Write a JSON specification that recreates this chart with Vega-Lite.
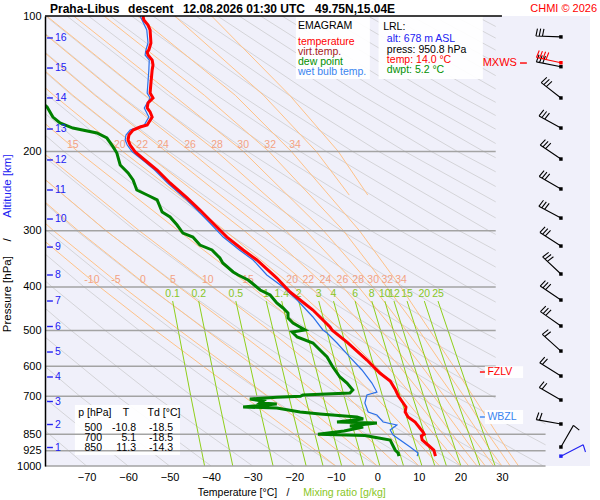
{
  "$schema": "https://vega.github.io/schema/vega-lite/v6.json",
  "description": "Emagram, Praha-Libus descent 12.08.2026 01:30 UTC",
  "width": 545,
  "height": 450,
  "autosize": {"type": "none"},
  "padding": {"left": 45, "top": 16, "right": 10, "bottom": 34},
  "background": "#ffffff",
  "config": {
    "font": "Liberation Sans",
    "view": {"fill": "#f0f0fa", "stroke": null}
  },
  "datasets": {
    "dry": [
      {"g": -70, "p": 1000, "t": -70}, {"g": -70, "p": 700, "t": -89.7},
      {"g": -60, "p": 1000, "t": -60}, {"g": -60, "p": 700, "t": -80.65}, {"g": -60, "p": 500, "t": -98.3},
      {"g": -50, "p": 1000, "t": -50}, {"g": -50, "p": 700, "t": -71.6}, {"g": -50, "p": 500, "t": -90.1},
      {"g": -40, "p": 1000, "t": -40}, {"g": -40, "p": 700, "t": -62.6}, {"g": -40, "p": 500, "t": -81.9}, {"g": -40, "p": 400, "t": -93.7},
      {"g": -30, "p": 1000, "t": -30}, {"g": -30, "p": 700, "t": -53.56}, {"g": -30, "p": 500, "t": -73.69}, {"g": -30, "p": 400, "t": -86.0},
      {"g": -20, "p": 1000, "t": -20}, {"g": -20, "p": 700, "t": -44.53}, {"g": -20, "p": 500, "t": -65.49}, {"g": -20, "p": 400, "t": -78.3}, {"g": -20, "p": 300, "t": -93.7},
      {"g": -10, "p": 1000, "t": -10}, {"g": -10, "p": 700, "t": -35.5}, {"g": -10, "p": 500, "t": -57.29}, {"g": -10, "p": 400, "t": -70.6}, {"g": -10, "p": 300, "t": -86.6},
      {"g": 0, "p": 1000, "t": 0}, {"g": 0, "p": 700, "t": -26.47}, {"g": 0, "p": 500, "t": -49.09}, {"g": 0, "p": 400, "t": -62.91}, {"g": 0, "p": 300, "t": -79.51}, {"g": 0, "p": 200, "t": -100.7},
      {"g": 10, "p": 1000, "t": 10}, {"g": 10, "p": 700, "t": -17.44}, {"g": 10, "p": 500, "t": -40.88}, {"g": 10, "p": 400, "t": -55.21}, {"g": 10, "p": 300, "t": -72.42}, {"g": 10, "p": 200, "t": -94.37},
      {"g": 20, "p": 1000, "t": 20}, {"g": 20, "p": 700, "t": -8.41}, {"g": 20, "p": 500, "t": -32.68}, {"g": 20, "p": 400, "t": -47.51}, {"g": 20, "p": 300, "t": -65.34}, {"g": 20, "p": 200, "t": -88.06},
      {"g": 30, "p": 1000, "t": 30}, {"g": 30, "p": 700, "t": 0.63}, {"g": 30, "p": 500, "t": -24.48}, {"g": 30, "p": 400, "t": -39.82}, {"g": 30, "p": 300, "t": -58.25}, {"g": 30, "p": 200, "t": -81.74}, {"g": 30, "p": 150, "t": -96.84},
      {"g": 40, "p": 1000, "t": 40}, {"g": 40, "p": 700, "t": 9.66}, {"g": 40, "p": 500, "t": -16.27}, {"g": 40, "p": 400, "t": -32.12}, {"g": 40, "p": 300, "t": -51.16}, {"g": 40, "p": 200, "t": -75.43}, {"g": 40, "p": 150, "t": -91.02},
      {"g": 50, "p": 1000, "t": 50}, {"g": 50, "p": 700, "t": 18.69}, {"g": 50, "p": 500, "t": -8.07}, {"g": 50, "p": 400, "t": -24.42}, {"g": 50, "p": 300, "t": -44.07}, {"g": 50, "p": 200, "t": -69.11}, {"g": 50, "p": 150, "t": -85.21},
      {"g": 60, "p": 1000, "t": 60}, {"g": 60, "p": 700, "t": 27.72}, {"g": 60, "p": 500, "t": 0.13}, {"g": 60, "p": 400, "t": -16.72}, {"g": 60, "p": 300, "t": -36.98}, {"g": 60, "p": 200, "t": -62.8}, {"g": 60, "p": 150, "t": -79.39}, {"g": 60, "p": 100, "t": -100.6},
      {"g": 70, "p": 1000, "t": 70}, {"g": 70, "p": 700, "t": 36.75}, {"g": 70, "p": 500, "t": 8.34}, {"g": 70, "p": 400, "t": -9.03}, {"g": 70, "p": 300, "t": -29.89}, {"g": 70, "p": 200, "t": -56.48}, {"g": 70, "p": 150, "t": -73.57}, {"g": 70, "p": 100, "t": -95.43},
      {"g": 80, "p": 700, "t": 45.78}, {"g": 80, "p": 500, "t": 16.54}, {"g": 80, "p": 400, "t": -1.33}, {"g": 80, "p": 300, "t": -22.8}, {"g": 80, "p": 200, "t": -50.17}, {"g": 80, "p": 150, "t": -67.76}, {"g": 80, "p": 100, "t": -90.25},
      {"g": 90, "p": 700, "t": 54.8}, {"g": 90, "p": 500, "t": 24.74}, {"g": 90, "p": 400, "t": 6.37}, {"g": 90, "p": 300, "t": -15.71}, {"g": 90, "p": 200, "t": -43.86}, {"g": 90, "p": 150, "t": -61.94}, {"g": 90, "p": 100, "t": -85.08},
      {"g": 100, "p": 500, "t": 32.94}, {"g": 100, "p": 400, "t": 14.06}, {"g": 100, "p": 300, "t": -8.62}, {"g": 100, "p": 200, "t": -37.54}, {"g": 100, "p": 150, "t": -56.13}, {"g": 100, "p": 100, "t": -79.9},
      {"g": 110, "p": 500, "t": 41.15}, {"g": 110, "p": 400, "t": 21.76}, {"g": 110, "p": 300, "t": -1.53}, {"g": 110, "p": 200, "t": -31.23}, {"g": 110, "p": 150, "t": -50.31}, {"g": 110, "p": 100, "t": -74.72},
      {"g": 120, "p": 500, "t": 49.3}, {"g": 120, "p": 400, "t": 29.46}, {"g": 120, "p": 300, "t": 5.55}, {"g": 120, "p": 200, "t": -24.91}, {"g": 120, "p": 150, "t": -44.49}, {"g": 120, "p": 100, "t": -69.54},
      {"g": 130, "p": 400, "t": 37.15}, {"g": 130, "p": 300, "t": 12.64}, {"g": 130, "p": 200, "t": -18.6}, {"g": 130, "p": 150, "t": -38.68}, {"g": 130, "p": 100, "t": -64.36},
      {"g": 140, "p": 400, "t": 44.8}, {"g": 140, "p": 300, "t": 19.73}, {"g": 140, "p": 200, "t": -12.29}, {"g": 140, "p": 150, "t": -32.86}, {"g": 140, "p": 100, "t": -59.18},
      {"g": 150, "p": 400, "t": 52.5}, {"g": 150, "p": 300, "t": 26.82}, {"g": 150, "p": 200, "t": -5.97}, {"g": 150, "p": 150, "t": -27.05}, {"g": 150, "p": 100, "t": -54.0},
      {"g": 160, "p": 300, "t": 33.91}, {"g": 160, "p": 200, "t": 0.34}, {"g": 160, "p": 150, "t": -21.23}, {"g": 160, "p": 100, "t": -48.82},
      {"g": 170, "p": 300, "t": 41.0}, {"g": 170, "p": 200, "t": 6.65}, {"g": 170, "p": 150, "t": -15.41}, {"g": 170, "p": 100, "t": -43.64},
      {"g": 180, "p": 300, "t": 48.1}, {"g": 180, "p": 200, "t": 12.97}, {"g": 180, "p": 150, "t": -9.6}, {"g": 180, "p": 100, "t": -38.46},
      {"g": 190, "p": 300, "t": 55.2}, {"g": 190, "p": 200, "t": 19.28}, {"g": 190, "p": 150, "t": -3.78}, {"g": 190, "p": 100, "t": -33.28},
      {"g": 200, "p": 300, "t": 62.3}, {"g": 200, "p": 200, "t": 25.6}, {"g": 200, "p": 150, "t": 2.03}, {"g": 200, "p": 100, "t": -28.11},
      {"g": 210, "p": 200, "t": 31.91}, {"g": 210, "p": 150, "t": 7.85}, {"g": 210, "p": 100, "t": -22.93},
      {"g": 220, "p": 200, "t": 38.23}, {"g": 220, "p": 150, "t": 13.67}, {"g": 220, "p": 100, "t": -17.75},
      {"g": 230, "p": 200, "t": 44.5}, {"g": 230, "p": 150, "t": 19.48}, {"g": 230, "p": 100, "t": -12.57},
      {"g": 240, "p": 200, "t": 50.8}, {"g": 240, "p": 150, "t": 25.3}, {"g": 240, "p": 100, "t": -7.39},
      {"g": 250, "p": 150, "t": 31.11}, {"g": 250, "p": 100, "t": -2.21},
      {"g": 260, "p": 150, "t": 36.9}, {"g": 260, "p": 100, "t": 2.97},
      {"g": 270, "p": 150, "t": 42.7}, {"g": 270, "p": 100, "t": 8.15},
      {"g": 280, "p": 150, "t": 48.6}, {"g": 280, "p": 100, "t": 13.33},
      {"g": 290, "p": 150, "t": 54.3}, {"g": 290, "p": 100, "t": 18.51},
      {"g": 300, "p": 150, "t": 60.1}, {"g": 300, "p": 100, "t": 23.69},
      {"g": 310, "p": 150, "t": 65.9}, {"g": 310, "p": 100, "t": 28.87}
    ],
    "moist": [
      {"g": -10, "p": 1000, "t": -10}, {"g": -10, "p": 925, "t": -14.72}, {"g": -10, "p": 850, "t": -19.98}, {"g": -10, "p": 700, "t": -32.16}, {"g": -10, "p": 600, "t": -41.95}, {"g": -10, "p": 500, "t": -53.4}, {"g": -10, "p": 400, "t": -66.85}, {"g": -10, "p": 300, "t": -83.1},
      {"g": -5, "p": 1000, "t": -5}, {"g": -5, "p": 925, "t": -9.5}, {"g": -5, "p": 850, "t": -14.53}, {"g": -5, "p": 700, "t": -26.33}, {"g": -5, "p": 600, "t": -36.0}, {"g": -5, "p": 500, "t": -47.55}, {"g": -5, "p": 400, "t": -61.25}, {"g": -5, "p": 300, "t": -77.94}, {"g": -5, "p": 200, "t": -99.2},
      {"g": 0, "p": 1000, "t": 0}, {"g": 0, "p": 925, "t": -4.23}, {"g": 0, "p": 850, "t": -8.97}, {"g": 0, "p": 700, "t": -20.2}, {"g": 0, "p": 600, "t": -29.6}, {"g": 0, "p": 500, "t": -41.1}, {"g": 0, "p": 400, "t": -55.0}, {"g": 0, "p": 300, "t": -72.0}, {"g": 0, "p": 200, "t": -94.1},
      {"g": 5, "p": 1000, "t": 5}, {"g": 5, "p": 925, "t": 1.05}, {"g": 5, "p": 850, "t": -3.34}, {"g": 5, "p": 700, "t": -13.85}, {"g": 5, "p": 600, "t": -22.7}, {"g": 5, "p": 500, "t": -33.85}, {"g": 5, "p": 400, "t": -47.8}, {"g": 5, "p": 300, "t": -65.3}, {"g": 5, "p": 200, "t": -88.0},
      {"g": 10, "p": 1000, "t": 10}, {"g": 10, "p": 925, "t": 6.35}, {"g": 10, "p": 850, "t": 2.33}, {"g": 10, "p": 700, "t": -7.3}, {"g": 10, "p": 600, "t": -15.4}, {"g": 10, "p": 500, "t": -25.95}, {"g": 10, "p": 400, "t": -39.6}, {"g": 10, "p": 300, "t": -57.3}, {"g": 10, "p": 200, "t": -80.8}, {"g": 10, "p": 150, "t": -96},
      {"g": 15, "p": 1000, "t": 15}, {"g": 15, "p": 925, "t": 11.63}, {"g": 15, "p": 850, "t": 8.0}, {"g": 15, "p": 700, "t": -0.6}, {"g": 15, "p": 600, "t": -7.86}, {"g": 15, "p": 500, "t": -17.43}, {"g": 15, "p": 400, "t": -30.23}, {"g": 15, "p": 300, "t": -47.9}, {"g": 15, "p": 200, "t": -72.1}, {"g": 15, "p": 150, "t": -88.0},
      {"g": 20, "p": 1000, "t": 20}, {"g": 20, "p": 925, "t": 16.89}, {"g": 20, "p": 850, "t": 13.62}, {"g": 20, "p": 700, "t": 6.05}, {"g": 20, "p": 600, "t": -0.37}, {"g": 20, "p": 500, "t": -8.69}, {"g": 20, "p": 400, "t": -20.16}, {"g": 20, "p": 300, "t": -36.64}, {"g": 20, "p": 200, "t": -61.3}, {"g": 20, "p": 150, "t": -77.9}, {"g": 20, "p": 100, "t": -99.4},
      {"g": 22, "p": 1000, "t": 22}, {"g": 22, "p": 925, "t": 19.04}, {"g": 22, "p": 850, "t": 15.86}, {"g": 22, "p": 700, "t": 8.57}, {"g": 22, "p": 600, "t": 2.37}, {"g": 22, "p": 500, "t": -5.43}, {"g": 22, "p": 400, "t": -16.16}, {"g": 22, "p": 300, "t": -32.04}, {"g": 22, "p": 200, "t": -56.4}, {"g": 22, "p": 150, "t": -73.3}, {"g": 22, "p": 100, "t": -95.2},
      {"g": 24, "p": 1000, "t": 24}, {"g": 24, "p": 925, "t": 21.12}, {"g": 24, "p": 850, "t": 18.03}, {"g": 24, "p": 700, "t": 11.17}, {"g": 24, "p": 600, "t": 5.3}, {"g": 24, "p": 500, "t": -2.21}, {"g": 24, "p": 400, "t": -12.2}, {"g": 24, "p": 300, "t": -26.97}, {"g": 24, "p": 200, "t": -50.9}, {"g": 24, "p": 150, "t": -68.0}, {"g": 24, "p": 100, "t": -90.5},
      {"g": 26, "p": 1000, "t": 26}, {"g": 26, "p": 925, "t": 23.17}, {"g": 26, "p": 850, "t": 20.32}, {"g": 26, "p": 700, "t": 13.6}, {"g": 26, "p": 600, "t": 7.92}, {"g": 26, "p": 500, "t": 0.98}, {"g": 26, "p": 400, "t": -8.36}, {"g": 26, "p": 300, "t": -22.0}, {"g": 26, "p": 200, "t": -45.0}, {"g": 26, "p": 150, "t": -62.2}, {"g": 26, "p": 100, "t": -85.3},
      {"g": 28, "p": 1000, "t": 28}, {"g": 28, "p": 925, "t": 25.35}, {"g": 28, "p": 850, "t": 22.37}, {"g": 28, "p": 700, "t": 16.1}, {"g": 28, "p": 600, "t": 10.69}, {"g": 28, "p": 500, "t": 4.08}, {"g": 28, "p": 400, "t": -4.52}, {"g": 28, "p": 300, "t": -17.24}, {"g": 28, "p": 200, "t": -38.7}, {"g": 28, "p": 150, "t": -55.9}, {"g": 28, "p": 100, "t": -79.6},
      {"g": 30, "p": 1000, "t": 30}, {"g": 30, "p": 925, "t": 27.3}, {"g": 30, "p": 850, "t": 24.67}, {"g": 30, "p": 700, "t": 18.44}, {"g": 30, "p": 600, "t": 13.28}, {"g": 30, "p": 500, "t": 6.99}, {"g": 30, "p": 400, "t": -1.08}, {"g": 30, "p": 300, "t": -12.94}, {"g": 30, "p": 200, "t": -32.27}, {"g": 30, "p": 150, "t": -49.1}, {"g": 30, "p": 100, "t": -73.1},
      {"g": 32, "p": 1000, "t": 32}, {"g": 32, "p": 925, "t": 29.48}, {"g": 32, "p": 850, "t": 26.69}, {"g": 32, "p": 700, "t": 20.87}, {"g": 32, "p": 600, "t": 15.89}, {"g": 32, "p": 500, "t": 10.05}, {"g": 32, "p": 400, "t": 2.26}, {"g": 32, "p": 300, "t": -8.15}, {"g": 32, "p": 200, "t": -26.1}, {"g": 32, "p": 150, "t": -41.65}, {"g": 32, "p": 100, "t": -65.8},
      {"g": 34, "p": 1000, "t": 34}, {"g": 34, "p": 925, "t": 31.45}, {"g": 34, "p": 850, "t": 28.88}, {"g": 34, "p": 700, "t": 23.06}, {"g": 34, "p": 600, "t": 18.36}, {"g": 34, "p": 500, "t": 12.65}, {"g": 34, "p": 400, "t": 5.63}, {"g": 34, "p": 300, "t": -4.29}, {"g": 34, "p": 200, "t": -20.7}, {"g": 34, "p": 150, "t": -34.2}, {"g": 34, "p": 100, "t": -57.7},
      {"g": 36, "p": 250, "t": -6.75}, {"g": 36, "p": 200, "t": -14.7}, {"g": 36, "p": 150, "t": -27.4}, {"g": 36, "p": 100, "t": -48.8},
      {"g": 38, "p": 250, "t": -2.3}, {"g": 38, "p": 200, "t": -9.4}, {"g": 38, "p": 150, "t": -21.1}, {"g": 38, "p": 100, "t": -39.9}
    ],
    "mix": [
      {"g": 0.1, "p": 430, "t": -49.27}, {"g": 0.1, "p": 700, "t": -44.9}, {"g": 0.1, "p": 1000, "t": -41.58},
      {"g": 0.2, "p": 430, "t": -43.0}, {"g": 0.2, "p": 700, "t": -38.34}, {"g": 0.2, "p": 1000, "t": -34.79},
      {"g": 0.5, "p": 430, "t": -34.06}, {"g": 0.5, "p": 700, "t": -28.97}, {"g": 0.5, "p": 1000, "t": -25.09},
      {"g": 1, "p": 430, "t": -26.75}, {"g": 1, "p": 700, "t": -21.3}, {"g": 1, "p": 1000, "t": -17.13},
      {"g": 1.4, "p": 430, "t": -23.02}, {"g": 1.4, "p": 700, "t": -17.38}, {"g": 1.4, "p": 1000, "t": -13.06},
      {"g": 2, "p": 430, "t": -18.93}, {"g": 2, "p": 700, "t": -13.07}, {"g": 2, "p": 1000, "t": -8.58},
      {"g": 3, "p": 430, "t": -14.1}, {"g": 3, "p": 700, "t": -7.97}, {"g": 3, "p": 1000, "t": -3.28},
      {"g": 4, "p": 430, "t": -10.54}, {"g": 4, "p": 700, "t": -4.23}, {"g": 4, "p": 1000, "t": 0.61},
      {"g": 6, "p": 430, "t": -5.35}, {"g": 6, "p": 700, "t": 1.25}, {"g": 6, "p": 1000, "t": 6.32},
      {"g": 8, "p": 430, "t": -1.33}, {"g": 8, "p": 700, "t": 5.5}, {"g": 8, "p": 1000, "t": 10.75},
      {"g": 10, "p": 430, "t": 1.81}, {"g": 10, "p": 700, "t": 8.48}, {"g": 10, "p": 1000, "t": 13.85},
      {"g": 12, "p": 430, "t": 4.01}, {"g": 12, "p": 700, "t": 11.15}, {"g": 12, "p": 1000, "t": 16.64},
      {"g": 15, "p": 430, "t": 7.16}, {"g": 15, "p": 700, "t": 14.48}, {"g": 15, "p": 1000, "t": 20.12},
      {"g": 20, "p": 430, "t": 11.32}, {"g": 20, "p": 700, "t": 18.89}, {"g": 20, "p": 1000, "t": 24.72},
      {"g": 25, "p": 430, "t": 14.61}, {"g": 25, "p": 700, "t": 22.38}, {"g": 25, "p": 1000, "t": 28.37}
    ],
    "temp": [
      {"p": 100, "t": -56.4}, {"p": 102.1, "t": -56.2}, {"p": 104.7, "t": -55.2}, {"p": 107.4, "t": -54.7}, {"p": 114.8, "t": -54.5},
      {"p": 119.0, "t": -55.0}, {"p": 120.2, "t": -55.4}, {"p": 122.1, "t": -55.2}, {"p": 125.3, "t": -54.2}, {"p": 128.5, "t": -54.0},
      {"p": 131.8, "t": -54.2}, {"p": 140.9, "t": -54.5}, {"p": 148.3, "t": -54.7}, {"p": 152.1, "t": -54.0}, {"p": 156.1, "t": -55.2},
      {"p": 160.1, "t": -55.4}, {"p": 163.4, "t": -54.7}, {"p": 167.7, "t": -54.2}, {"p": 174.7, "t": -55.4}, {"p": 176.5, "t": -57.1},
      {"p": 179.2, "t": -58.8}, {"p": 183.8, "t": -59.8}, {"p": 188.6, "t": -60.0}, {"p": 193.5, "t": -59.5}, {"p": 200.5, "t": -58.3},
      {"p": 211.1, "t": -55.4}, {"p": 219.9, "t": -53.0}, {"p": 235.0, "t": -49.9}, {"p": 253.7, "t": -45.8}, {"p": 269.9, "t": -42.7},
      {"p": 288.4, "t": -39.6}, {"p": 309.9, "t": -36.2}, {"p": 331.1, "t": -32.3}, {"p": 348.5, "t": -29.0}, {"p": 382.2, "t": -24.2},
      {"p": 410.6, "t": -21.0}, {"p": 450.2, "t": -15.5}, {"p": 491.1, "t": -11.4}, {"p": 500, "t": -10.8}, {"p": 530.3, "t": -7.3},
      {"p": 581.4, "t": -2.5}, {"p": 621.4, "t": 0.6}, {"p": 647.4, "t": 3.1}, {"p": 677.9, "t": 4.4}, {"p": 700, "t": 5.1},
      {"p": 739.4, "t": 6.9}, {"p": 758.6, "t": 6.7}, {"p": 778.2, "t": 7.4}, {"p": 798.4, "t": 9.1}, {"p": 840.2, "t": 11.0},
      {"p": 850, "t": 11.3}, {"p": 857.7, "t": 10.6}, {"p": 875.4, "t": 10.8}, {"p": 898.1, "t": 12.2}, {"p": 921.4, "t": 13.6},
      {"p": 950.8, "t": 14.0}
    ],
    "dew": [
      {"p": 155, "t": -81}, {"p": 159.3, "t": -79.5}, {"p": 167.7, "t": -78.1}, {"p": 172.9, "t": -76.4}, {"p": 177.4, "t": -73.3},
      {"p": 182.0, "t": -67.5}, {"p": 186.7, "t": -65.1}, {"p": 195.4, "t": -63.6}, {"p": 201.6, "t": -62.7}, {"p": 214.3, "t": -61.9},
      {"p": 223.3, "t": -60.0}, {"p": 231.4, "t": -58.8}, {"p": 243.6, "t": -57.9}, {"p": 249.9, "t": -55.4}, {"p": 256.3, "t": -53.0},
      {"p": 272.6, "t": -51.8}, {"p": 279.7, "t": -49.9}, {"p": 291.4, "t": -48.2}, {"p": 303.6, "t": -46.8}, {"p": 309.9, "t": -44.4},
      {"p": 322.8, "t": -42.7}, {"p": 331.1, "t": -39.8}, {"p": 345.0, "t": -37.9}, {"p": 353.9, "t": -37.2}, {"p": 370.6, "t": -34.7},
      {"p": 376.3, "t": -33.5}, {"p": 386.1, "t": -31.1}, {"p": 392.1, "t": -30.2}, {"p": 406.3, "t": -28.2}, {"p": 416.9, "t": -25.8},
      {"p": 434.3, "t": -24.2}, {"p": 445.5, "t": -22.7}, {"p": 457.1, "t": -21.5}, {"p": 468.9, "t": -21.5}, {"p": 481.1, "t": -20.3},
      {"p": 498.6, "t": -17.4}, {"p": 503.7, "t": -20.5}, {"p": 516.8, "t": -19.3}, {"p": 533.0, "t": -15.5}, {"p": 552.4, "t": -13.8},
      {"p": 572.6, "t": -12.1}, {"p": 602.6, "t": -10.7}, {"p": 634.2, "t": -9.0}, {"p": 654.1, "t": -7.3}, {"p": 677.9, "t": -5.9},
      {"p": 688.4, "t": -6.6}, {"p": 695, "t": -17.9}, {"p": 700, "t": -18.5}, {"p": 703, "t": -24.2}, {"p": 709.8, "t": -30.7},
      {"p": 717.1, "t": -27.5}, {"p": 724.4, "t": -28.2}, {"p": 728.2, "t": -24.2}, {"p": 739.4, "t": -32.3}, {"p": 743.2, "t": -24.2},
      {"p": 758.6, "t": -18.6}, {"p": 766.5, "t": -13.8}, {"p": 778.2, "t": -4.9}, {"p": 786.2, "t": -3.4}, {"p": 798.4, "t": -9.7},
      {"p": 802.5, "t": -0.1}, {"p": 814.9, "t": -6.6}, {"p": 819.1, "t": -3.4}, {"p": 836, "t": -8.0}, {"p": 850, "t": -14.3},
      {"p": 856, "t": -3.0}, {"p": 862, "t": -1.0}, {"p": 875.4, "t": 3.1}, {"p": 921.4, "t": 4.3}, {"p": 935.7, "t": 5.0},
      {"p": 950.8, "t": 5.2}
    ],
    "wet": [
      {"p": 100, "t": -57.1}, {"p": 107.4, "t": -55.5}, {"p": 114.8, "t": -55.2}, {"p": 119.0, "t": -55.7}, {"p": 122.1, "t": -55.9},
      {"p": 125.3, "t": -54.9}, {"p": 131.8, "t": -55.0}, {"p": 148.3, "t": -55.4}, {"p": 152.1, "t": -54.7}, {"p": 160.1, "t": -56.1},
      {"p": 167.7, "t": -55.0}, {"p": 174.7, "t": -56.1}, {"p": 179.2, "t": -59.5}, {"p": 183.8, "t": -60.5}, {"p": 188.6, "t": -60.7},
      {"p": 193.5, "t": -60.2}, {"p": 200.5, "t": -59.0}, {"p": 211.1, "t": -55.9}, {"p": 219.9, "t": -53.6}, {"p": 235.0, "t": -50.5},
      {"p": 253.7, "t": -46.4}, {"p": 269.9, "t": -43.4}, {"p": 288.4, "t": -40.3}, {"p": 309.9, "t": -37.1}, {"p": 331.1, "t": -33.2},
      {"p": 348.5, "t": -29.9}, {"p": 376.3, "t": -26.6}, {"p": 400.2, "t": -22.7}, {"p": 427.7, "t": -19.3}, {"p": 466.5, "t": -15.5},
      {"p": 498.6, "t": -13.1}, {"p": 506.3, "t": -12.1}, {"p": 533.0, "t": -9.7}, {"p": 572.6, "t": -6.6}, {"p": 611.9, "t": -3.7},
      {"p": 654.1, "t": -1.3}, {"p": 684.9, "t": -0.1}, {"p": 695.4, "t": -2.5}, {"p": 724.4, "t": -3.0}, {"p": 758.6, "t": -2.2},
      {"p": 770.3, "t": -0.1}, {"p": 798.4, "t": 1.4}, {"p": 810.7, "t": 4.7}, {"p": 831.8, "t": 3.1}, {"p": 853.3, "t": 3.8},
      {"p": 907.4, "t": 7.9}, {"p": 935.7, "t": 9.8}, {"p": 950.8, "t": 9.6}
    ],
    "isobars": [
      {"p": 200, "t": -80, "t1": 28.5}, {"p": 300, "t": -80, "t1": 28.5}, {"p": 400, "t": -80, "t1": 28.5},
      {"p": 500, "t": -80, "t1": 28.5}, {"p": 600, "t": -80, "t1": 28.5}, {"p": 700, "t": -80, "t1": 28.5},
      {"p": 850, "t": -80, "t1": 40.5}, {"p": 925, "t": -80, "t1": 40.5}, {"p": 1000, "t": -80, "t1": 40.5}
    ],
    "vgrid": [
      {"t": -70}, {"t": -60}, {"t": -50}, {"t": -40}, {"t": -30}, {"t": -20}, {"t": -10}, {"t": 10}, {"t": 20}, {"t": 30}
    ],
    "areas": [
      {"kind": "mask", "t": 28.5, "t1": 51.2, "p": 100, "p1": 790},
      {"kind": "mask", "t": 40.5, "t1": 51.2, "p": 790, "p1": 1000},
      {"kind": "box", "t": -72.8, "t1": -47.5, "p": 731.9, "p1": 945.3},
      {"kind": "box", "t": -19.6, "t1": -1.8, "p": 100, "p1": 138},
      {"kind": "box", "t": 0.3, "t1": 25.4, "p": 100, "p1": 138},
      {"kind": "lbox", "t": 25.9, "t1": 35.1, "p": 600, "p1": 637.5},
      {"kind": "lbox", "t": 25.9, "t1": 35.1, "p": 751, "p1": 806.6}
    ],
    "ticks": [
      {"t": -80, "t1": 30, "p": 100, "c": "ink"},
      {"t": -79.5, "t1": -78.1, "p": 111.9, "c": "alt"}, {"t": -79.5, "t1": -78.1, "p": 130.5, "c": "alt"},
      {"t": -79.5, "t1": -78.1, "p": 152.1, "c": "alt"}, {"t": -79.5, "t1": -78.1, "p": 178.3, "c": "alt"},
      {"t": -79.5, "t1": -78.1, "p": 208.9, "c": "alt"}, {"t": -79.5, "t1": -78.1, "p": 243.6, "c": "alt"},
      {"t": -79.5, "t1": -78.1, "p": 282.6, "c": "alt"}, {"t": -79.5, "t1": -78.1, "p": 326.2, "c": "alt"},
      {"t": -79.5, "t1": -78.1, "p": 376.3, "c": "alt"}, {"t": -79.5, "t1": -78.1, "p": 429.9, "c": "alt"},
      {"t": -79.5, "t1": -78.1, "p": 489.8, "c": "alt"}, {"t": -79.5, "t1": -78.1, "p": 558.1, "c": "alt"},
      {"t": -79.5, "t1": -78.1, "p": 634.2, "c": "alt"}, {"t": -79.5, "t1": -78.1, "p": 718.9, "c": "alt"},
      {"t": -79.5, "t1": -78.1, "p": 808.7, "c": "alt"}, {"t": -79.5, "t1": -78.1, "p": 909.7, "c": "alt"},
      {"t": 24.7, "t1": 25.9, "p": 618.2, "c": "temp"},
      {"t": 24.7, "t1": 25.9, "p": 778.2, "c": "wet"},
      {"t": 34.35, "t1": 36.0, "p": 127.2, "c": "temp"}
    ],
    "barbs": [
      {"t": 44.2, "p": 111.3, "dir": 272, "kt": 30, "c": "ink"},
      {"t": 44.2, "p": 129.6, "dir": 281, "kt": 30, "c": "ink"},
      {"t": 44.2, "p": 127.0, "dir": 282, "kt": 40, "c": "temp"},
      {"t": 44.2, "p": 152.1, "dir": 308, "kt": 30, "c": "ink"},
      {"t": 44.2, "p": 177.4, "dir": 299, "kt": 30, "c": "ink"},
      {"t": 44.2, "p": 207.9, "dir": 304, "kt": 30, "c": "ink"},
      {"t": 44.2, "p": 242.3, "dir": 300, "kt": 30, "c": "ink"},
      {"t": 44.2, "p": 281.2, "dir": 298, "kt": 30, "c": "ink"},
      {"t": 44.2, "p": 324.5, "dir": 303, "kt": 30, "c": "ink"},
      {"t": 44.2, "p": 374.4, "dir": 313, "kt": 30, "c": "ink"},
      {"t": 44.2, "p": 427.7, "dir": 304, "kt": 30, "c": "ink"},
      {"t": 44.2, "p": 488.5, "dir": 305, "kt": 30, "c": "ink"},
      {"t": 44.2, "p": 555.3, "dir": 312, "kt": 20, "c": "ink"},
      {"t": 44.2, "p": 631.0, "dir": 302, "kt": 20, "c": "ink"},
      {"t": 44.2, "p": 713.4, "dir": 300, "kt": 20, "c": "ink"},
      {"t": 44.2, "p": 806.6, "dir": 280, "kt": 20, "c": "ink"},
      {"t": 44.2, "p": 907.4, "dir": 30, "kt": 10, "c": "ink"},
      {"t": 44.2, "p": 950.8, "dir": 63, "kt": 10, "c": "alt"}
    ],
    "texts": [
      {"g": "title", "c": "ink", "text": "Praha-Libus", "t": -78.8, "p": 96.5},
      {"g": "title", "c": "ink", "text": "descent", "t": -60.0, "p": 96.5},
      {"g": "title", "c": "ink", "text": "12.08.2026 01:30 UTC", "t": -46.8, "p": 96.5},
      {"g": "title", "c": "ink", "text": "49.75N,15.04E", "t": -15.0, "p": 96.5},
      {"g": "chmi", "c": "temp", "text": "CHMI © 2026", "t": 52.9, "p": 96.5},
      {"g": "box", "c": "ink", "text": "EMAGRAM", "t": -19.1, "p": 105.3},
      {"g": "box", "c": "temp", "text": "temperature", "t": -19.1, "p": 114.2},
      {"g": "box", "c": "virt", "text": "virt.temp.", "t": -19.1, "p": 120.2},
      {"g": "box", "c": "dew", "text": "dew point", "t": -19.1, "p": 126.6},
      {"g": "box", "c": "wet", "text": "wet bulb temp.", "t": -19.1, "p": 133.2},
      {"g": "box", "c": "ink", "text": "LRL:", "t": 1.4, "p": 105.8},
      {"g": "box", "c": "alt", "text": "alt: 678 m ASL", "t": 2.3, "p": 112.5},
      {"g": "box", "c": "ink", "text": "press: 950.8 hPa", "t": 2.3, "p": 119.0},
      {"g": "box", "c": "temp", "text": "temp: 14.0 °C", "t": 2.3, "p": 125.3},
      {"g": "box", "c": "dew", "text": "dwpt: 5.2 °C", "t": 2.3, "p": 131.8},
      {"g": "tabh", "c": "ink", "text": "p [hPa]", "t": -68.0, "p": 762.6},
      {"g": "tabh", "c": "ink", "text": "T", "t": -60.5, "p": 762.6},
      {"g": "tabh", "c": "ink", "text": "Td [°C]", "t": -51.35, "p": 762.6},
      {"g": "tabv", "c": "ink", "text": "500", "t": -66.28, "p": 823.3},
      {"g": "tabv", "c": "ink", "text": "-10.8", "t": -58.09, "p": 823.3},
      {"g": "tabv", "c": "ink", "text": "-18.5", "t": -49.19, "p": 823.3},
      {"g": "tabv", "c": "ink", "text": "700", "t": -66.28, "p": 866.4},
      {"g": "tabv", "c": "ink", "text": "5.1", "t": -58.09, "p": 866.4},
      {"g": "tabv", "c": "ink", "text": "-18.5", "t": -49.19, "p": 866.4},
      {"g": "tabv", "c": "ink", "text": "850", "t": -66.28, "p": 912.0},
      {"g": "tabv", "c": "ink", "text": "11.3", "t": -58.09, "p": 912.0},
      {"g": "tabv", "c": "ink", "text": "-14.3", "t": -49.19, "p": 912.0},
      {"g": "km", "c": "alt", "text": "16", "t": -77.6, "p": 111.9},
      {"g": "km", "c": "alt", "text": "15", "t": -77.6, "p": 130.5},
      {"g": "km", "c": "alt", "text": "14", "t": -77.6, "p": 152.1},
      {"g": "km", "c": "alt", "text": "13", "t": -77.6, "p": 178.3},
      {"g": "km", "c": "alt", "text": "12", "t": -77.6, "p": 208.9},
      {"g": "km", "c": "alt", "text": "11", "t": -77.6, "p": 243.6},
      {"g": "km", "c": "alt", "text": "10", "t": -77.6, "p": 282.6},
      {"g": "km", "c": "alt", "text": "9", "t": -77.6, "p": 326.2},
      {"g": "km", "c": "alt", "text": "8", "t": -77.6, "p": 376.3},
      {"g": "km", "c": "alt", "text": "7", "t": -77.6, "p": 429.9},
      {"g": "km", "c": "alt", "text": "6", "t": -77.6, "p": 489.8},
      {"g": "km", "c": "alt", "text": "5", "t": -77.6, "p": 558.1},
      {"g": "km", "c": "alt", "text": "4", "t": -77.6, "p": 634.2},
      {"g": "km", "c": "alt", "text": "3", "t": -77.6, "p": 718.9},
      {"g": "km", "c": "alt", "text": "2", "t": -77.6, "p": 808.7},
      {"g": "km", "c": "alt", "text": "1", "t": -77.6, "p": 909.7},
      {"g": "lab", "c": "moist", "text": "15", "t": -73.3, "p": 193.5},
      {"g": "lab", "c": "moist", "text": "20", "t": -62.0, "p": 193.5},
      {"g": "lab", "c": "moist", "text": "22", "t": -56.6, "p": 193.5},
      {"g": "lab", "c": "moist", "text": "24", "t": -51.6, "p": 193.5},
      {"g": "lab", "c": "moist", "text": "26", "t": -45.1, "p": 193.5},
      {"g": "lab", "c": "moist", "text": "28", "t": -38.6, "p": 193.5},
      {"g": "lab", "c": "moist", "text": "30", "t": -32.3, "p": 193.5},
      {"g": "lab", "c": "moist", "text": "32", "t": -25.8, "p": 193.5},
      {"g": "lab", "c": "moist", "text": "34", "t": -19.8, "p": 193.5},
      {"g": "lab", "c": "moist", "text": "-10", "t": -68.7, "p": 386.1},
      {"g": "lab", "c": "moist", "text": "-5", "t": -62.9, "p": 386.1},
      {"g": "lab", "c": "moist", "text": "0", "t": -56.4, "p": 386.1},
      {"g": "lab", "c": "moist", "text": "5", "t": -49.2, "p": 386.1},
      {"g": "lab", "c": "moist", "text": "10", "t": -40.8, "p": 386.1},
      {"g": "lab", "c": "moist", "text": "15", "t": -31.1, "p": 386.1},
      {"g": "lab", "c": "moist", "text": "20", "t": -20.5, "p": 386.1},
      {"g": "lab", "c": "moist", "text": "22", "t": -16.6, "p": 386.1},
      {"g": "lab", "c": "moist", "text": "24", "t": -12.5, "p": 386.1},
      {"g": "lab", "c": "moist", "text": "26", "t": -8.4, "p": 386.1},
      {"g": "lab", "c": "moist", "text": "28", "t": -4.6, "p": 386.1},
      {"g": "lab", "c": "moist", "text": "30", "t": -1.0, "p": 386.1},
      {"g": "lab", "c": "moist", "text": "32", "t": 2.4, "p": 386.1},
      {"g": "lab", "c": "moist", "text": "34", "t": 5.7, "p": 386.1},
      {"g": "lab", "c": "mix", "text": "0.1", "t": -49.27, "p": 414.8},
      {"g": "lab", "c": "mix", "text": "0.2", "t": -43.0, "p": 414.8},
      {"g": "lab", "c": "mix", "text": "0.5", "t": -34.06, "p": 414.8},
      {"g": "lab", "c": "mix", "text": "1", "t": -26.75, "p": 414.8},
      {"g": "lab", "c": "mix", "text": "1.4", "t": -23.02, "p": 414.8},
      {"g": "lab", "c": "mix", "text": "2", "t": -18.93, "p": 414.8},
      {"g": "lab", "c": "mix", "text": "3", "t": -14.1, "p": 414.8},
      {"g": "lab", "c": "mix", "text": "4", "t": -10.54, "p": 414.8},
      {"g": "lab", "c": "mix", "text": "6", "t": -5.35, "p": 414.8},
      {"g": "lab", "c": "mix", "text": "8", "t": -1.33, "p": 414.8},
      {"g": "lab", "c": "mix", "text": "10", "t": 1.81, "p": 414.8},
      {"g": "lab", "c": "mix", "text": "12", "t": 4.01, "p": 414.8},
      {"g": "lab", "c": "mix", "text": "15", "t": 7.16, "p": 414.8},
      {"g": "lab", "c": "mix", "text": "20", "t": 11.32, "p": 414.8},
      {"g": "lab", "c": "mix", "text": "25", "t": 14.61, "p": 414.8},
      {"g": "lvl", "c": "temp", "text": "FZLV", "t": 26.5, "p": 618.2},
      {"g": "lvl", "c": "wet", "text": "WBZL", "t": 26.5, "p": 778.2},
      {"g": "lvlr", "c": "temp", "text": "MXWS", "t": 33.6, "p": 127.2},
      {"g": "xt", "c": "ink", "text": "Temperature [°C]", "t": -33.66, "p": 1148},
      {"g": "xt", "c": "ink", "text": "/", "t": -21.5, "p": 1148},
      {"g": "xt", "c": "mix", "text": "Mixing ratio [g/kg]", "t": -7.9, "p": 1148},
      {"g": "yt", "c": "ink", "text": "Pressure [hPa]", "t": -88.9, "p": 415.0},
      {"g": "yt", "c": "ink", "text": "/", "t": -88.9, "p": 314.6},
      {"g": "yt", "c": "alt", "text": "Altitude [km]", "t": -88.9, "p": 238.7}
    ]
  },
  "encoding": {
    "x": {
      "field": "t",
      "type": "quantitative",
      "scale": {"domain": [-80, 51.2], "nice": false, "zero": false},
      "axis": {
        "values": [-70, -60, -50, -40, -30, -20, -10, 0, 10, 20, 30],
        "title": null, "grid": false, "ticks": false, "domain": false,
        "labelFontSize": 11, "labelColor": "#000000", "labelPadding": 5,
        "labelFlush": false, "labelOverlap": false
      }
    },
    "y": {
      "field": "p",
      "type": "quantitative",
      "scale": {"type": "log", "domain": [100, 1000], "nice": false, "reverse": true},
      "axis": {
        "values": [100, 200, 300, 400, 500, 600, 700, 850, 925, 1000],
        "format": "d", "title": null, "grid": false, "ticks": false,
        "domainColor": "#000000", "domainWidth": 1.5,
        "labelFontSize": 11, "labelColor": "#000000", "labelPadding": 4,
        "labelFlush": false, "labelOverlap": false, "zindex": 1
      }
    }
  },
  "layer": [
    {
      "data": {"name": "dry"},
      "mark": {"type": "line", "clip": true, "color": "#d4d4d8", "strokeWidth": 1},
      "encoding": {"detail": {"field": "g", "type": "nominal"}, "order": {"field": "p", "type": "quantitative"}}
    },
    {
      "data": {"name": "moist"},
      "mark": {"type": "line", "clip": true, "color": "#ffc288", "strokeWidth": 1},
      "encoding": {"detail": {"field": "g", "type": "nominal"}, "order": {"field": "p", "type": "quantitative"}}
    },
    {
      "data": {"name": "mix"},
      "mark": {"type": "line", "clip": true, "color": "#8fcf1a", "strokeWidth": 1},
      "encoding": {"detail": {"field": "g", "type": "nominal"}, "order": {"field": "p", "type": "quantitative"}}
    },
    {
      "data": {"name": "areas"},
      "transform": [{"filter": "datum.kind === 'mask'"}],
      "mark": {"type": "rect", "color": "#f0f0fa"},
      "encoding": {"x2": {"field": "t1"}, "y2": {"field": "p1"}}
    },
    {
      "data": {"name": "areas"},
      "transform": [{"filter": "datum.kind === 'box'"}],
      "mark": {"type": "rect", "color": "#ffffff", "opacity": 0.92},
      "encoding": {"x2": {"field": "t1"}, "y2": {"field": "p1"}}
    },
    {
      "data": {"name": "vgrid"},
      "mark": {"type": "rule", "color": "#d6d6da", "strokeWidth": 1.5},
      "encoding": {"y": {"datum": 100}, "y2": {"datum": 1000}}
    },
    {
      "data": {"name": "isobars"},
      "mark": {"type": "rule", "color": "#a3a3a3", "strokeWidth": 1.5},
      "encoding": {"x2": {"field": "t1"}}
    },
    {
      "data": {"values": [{"t": 0}]},
      "mark": {"type": "rule", "color": "#9a9a9a", "strokeWidth": 1.5},
      "encoding": {"y": {"datum": 100}, "y2": {"datum": 1000}}
    },
    {
      "data": {"name": "texts"},
      "transform": [{"filter": "datum.g === 'lab'"}],
      "mark": {"type": "text", "align": "center", "baseline": "middle", "fontSize": 10.5},
      "encoding": {
        "text": {"field": "text"},
        "color": {"field": "c", "type": "nominal", "scale": {"domain": ["ink", "temp", "virt", "dew", "wet", "alt", "moist", "mix"], "range": ["#000000", "#ff0000", "#a51c1c", "#009000", "#3a85f0", "#2121f2", "#f3a283", "#88c61e"]}, "legend": null}
      }
    },
    {
      "data": {"name": "wet"},
      "mark": {"type": "line", "clip": true, "color": "#2a6fe8", "strokeWidth": 1.2},
      "encoding": {"order": {"field": "p", "type": "quantitative"}}
    },
    {
      "data": {"name": "dew"},
      "mark": {"type": "line", "clip": true, "color": "#008000", "strokeWidth": 3},
      "encoding": {"order": {"field": "p", "type": "quantitative"}}
    },
    {
      "data": {"name": "temp"},
      "mark": {"type": "line", "clip": true, "color": "#ff0000", "strokeWidth": 3},
      "encoding": {"order": {"field": "p", "type": "quantitative"}}
    },
    {
      "data": {"name": "areas"},
      "transform": [{"filter": "datum.kind === 'lbox'"}],
      "mark": {"type": "rect", "color": "#ffffff", "opacity": 0.92},
      "encoding": {"x2": {"field": "t1"}, "y2": {"field": "p1"}}
    },
    {
      "data": {"name": "ticks"},
      "mark": {"type": "rule", "strokeWidth": 1.4},
      "encoding": {
        "x2": {"field": "t1"},
        "color": {"field": "c", "type": "nominal", "scale": {"domain": ["ink", "temp", "virt", "dew", "wet", "alt", "moist", "mix"], "range": ["#000000", "#ff0000", "#a51c1c", "#009000", "#3a85f0", "#2121f2", "#f3a283", "#88c61e"]}, "legend": null}
      }
    },
    {
      "data": {"name": "barbs"},
      "mark": {"type": "point", "filled": false, "opacity": 1, "size": 2500, "strokeWidth": 1.1},
      "encoding": {
        "shape": {
          "field": "kt", "type": "ordinal",
          "scale": {
            "domain": [10, 20, 30, 40],
            "range": [
              "M0,0L-1,0M-1,0L-0.95,-0.3",
              "M0,0L-1,0M-1,0L-0.95,-0.3M-0.87,0L-0.82,-0.3",
              "M0,0L-1,0M-1,0L-0.95,-0.3M-0.87,0L-0.82,-0.3M-0.74,0L-0.69,-0.3",
              "M0,0L-1,0M-1,0L-0.95,-0.3M-0.87,0L-0.82,-0.3M-0.74,0L-0.69,-0.3M-0.61,0L-0.56,-0.3"
            ]
          },
          "legend": null
        },
        "angle": {"field": "dir", "type": "quantitative", "scale": {"domain": [0, 360], "range": [90, 450]}},
        "color": {"field": "c", "type": "nominal", "scale": {"domain": ["ink", "temp", "virt", "dew", "wet", "alt", "moist", "mix"], "range": ["#000000", "#ff0000", "#a51c1c", "#009000", "#3a85f0", "#2121f2", "#f3a283", "#88c61e"]}, "legend": null}
      }
    },
    {
      "data": {"name": "barbs"},
      "mark": {"type": "point", "shape": "square", "filled": true, "opacity": 1, "size": 12},
      "encoding": {
        "color": {"field": "c", "type": "nominal", "scale": {"domain": ["ink", "temp", "virt", "dew", "wet", "alt", "moist", "mix"], "range": ["#000000", "#ff0000", "#a51c1c", "#009000", "#3a85f0", "#2121f2", "#f3a283", "#88c61e"]}, "legend": null}
      }
    },
    {
      "data": {"name": "texts"},
      "transform": [{"filter": "datum.g === 'title'"}],
      "mark": {"type": "text", "align": "left", "baseline": "middle", "fontSize": 12, "fontWeight": "bold"},
      "encoding": {
        "text": {"field": "text"},
        "color": {"field": "c", "type": "nominal", "scale": {"domain": ["ink", "temp", "virt", "dew", "wet", "alt", "moist", "mix"], "range": ["#000000", "#ff0000", "#a51c1c", "#009000", "#3a85f0", "#2121f2", "#f3a283", "#88c61e"]}, "legend": null}
      }
    },
    {
      "data": {"name": "texts"},
      "transform": [{"filter": "datum.g === 'chmi' || datum.g === 'lvlr'"}],
      "mark": {"type": "text", "align": "right", "baseline": "middle", "fontSize": 11},
      "encoding": {
        "text": {"field": "text"},
        "color": {"field": "c", "type": "nominal", "scale": {"domain": ["ink", "temp", "virt", "dew", "wet", "alt", "moist", "mix"], "range": ["#000000", "#ff0000", "#a51c1c", "#009000", "#3a85f0", "#2121f2", "#f3a283", "#88c61e"]}, "legend": null}
      }
    },
    {
      "data": {"name": "texts"},
      "transform": [{"filter": "datum.g === 'box' || datum.g === 'lvl'"}],
      "mark": {"type": "text", "align": "left", "baseline": "middle", "fontSize": 10.5},
      "encoding": {
        "text": {"field": "text"},
        "color": {"field": "c", "type": "nominal", "scale": {"domain": ["ink", "temp", "virt", "dew", "wet", "alt", "moist", "mix"], "range": ["#000000", "#ff0000", "#a51c1c", "#009000", "#3a85f0", "#2121f2", "#f3a283", "#88c61e"]}, "legend": null}
      }
    },
    {
      "data": {"name": "texts"},
      "transform": [{"filter": "datum.g === 'km'"}],
      "mark": {"type": "text", "align": "left", "baseline": "middle", "fontSize": 10.5},
      "encoding": {
        "text": {"field": "text"},
        "color": {"field": "c", "type": "nominal", "scale": {"domain": ["ink", "temp", "virt", "dew", "wet", "alt", "moist", "mix"], "range": ["#000000", "#ff0000", "#a51c1c", "#009000", "#3a85f0", "#2121f2", "#f3a283", "#88c61e"]}, "legend": null}
      }
    },
    {
      "data": {"name": "texts"},
      "transform": [{"filter": "datum.g === 'tabh' || datum.g === 'xt'"}],
      "mark": {"type": "text", "align": "center", "baseline": "middle", "fontSize": 10.5},
      "encoding": {
        "text": {"field": "text"},
        "color": {"field": "c", "type": "nominal", "scale": {"domain": ["ink", "temp", "virt", "dew", "wet", "alt", "moist", "mix"], "range": ["#000000", "#ff0000", "#a51c1c", "#009000", "#3a85f0", "#2121f2", "#f3a283", "#88c61e"]}, "legend": null}
      }
    },
    {
      "data": {"name": "texts"},
      "transform": [{"filter": "datum.g === 'tabv'"}],
      "mark": {"type": "text", "align": "right", "baseline": "middle", "fontSize": 10.5},
      "encoding": {
        "text": {"field": "text"},
        "color": {"field": "c", "type": "nominal", "scale": {"domain": ["ink", "temp", "virt", "dew", "wet", "alt", "moist", "mix"], "range": ["#000000", "#ff0000", "#a51c1c", "#009000", "#3a85f0", "#2121f2", "#f3a283", "#88c61e"]}, "legend": null}
      }
    },
    {
      "data": {"name": "texts"},
      "transform": [{"filter": "datum.g === 'yt'"}],
      "mark": {"type": "text", "align": "center", "baseline": "middle", "fontSize": 11.5, "angle": 270},
      "encoding": {
        "text": {"field": "text"},
        "color": {"field": "c", "type": "nominal", "scale": {"domain": ["ink", "temp", "virt", "dew", "wet", "alt", "moist", "mix"], "range": ["#000000", "#ff0000", "#a51c1c", "#009000", "#3a85f0", "#2121f2", "#f3a283", "#88c61e"]}, "legend": null}
      }
    }
  ]
}
